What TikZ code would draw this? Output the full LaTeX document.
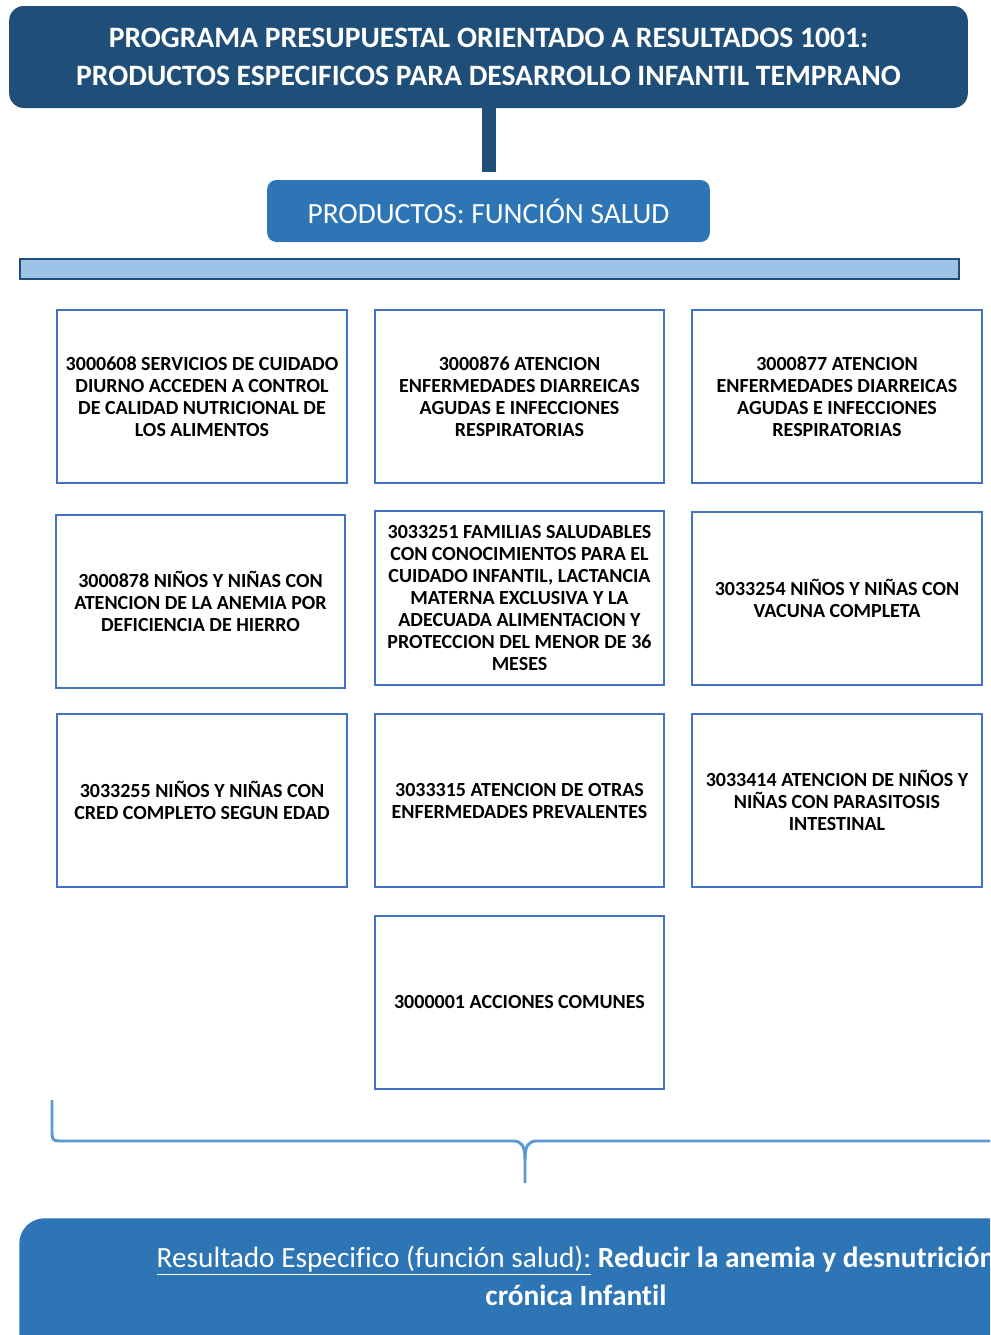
\documentclass[tikz,border=0pt]{standalone}
\usepackage{fontspec}
\setmainfont{Carlito}[Ligatures=NoCommon]
\usetikzlibrary{positioning}
\definecolor{darkblue}{HTML}{1F4E79}
\definecolor{midblue}{HTML}{2E75B6}
\definecolor{lightblue}{HTML}{9DC3E6}
\definecolor{boxblue}{HTML}{4472C4}
\definecolor{braceblue}{HTML}{5B9BD5}

\begin{document}
\begin{tikzpicture}[x=0.75pt, y=-0.75pt,
        title/.style={rectangle, rounded corners=11pt, fill=darkblue, text=white, align=center,
            font=\fontsize{22.2}{29}\selectfont\bfseries, minimum width=719pt, minimum height=76.5pt},
        subtitle/.style={rectangle, rounded corners=7pt, fill=midblue, text=white,
            font=\fontsize{22}{26}\selectfont, minimum width=332pt, minimum height=46.5pt},
        bar/.style={rectangle, draw=darkblue, line width=1.5pt, fill=lightblue, minimum width=704pt, minimum height=15pt, inner sep=0pt},
        product/.style={rectangle, draw=boxblue, line width=1.4pt, fill=white, align=center,
            font=\fontsize{15}{16.5}\selectfont\bfseries, minimum width=217pt, minimum height=130pt, inner sep=2pt},
        stem/.style={-, line width=10.5pt, darkblue},
        brace/.style={-, line width=2.2pt, braceblue},
        result/.style={rectangle, rounded corners=19pt, fill=midblue, minimum width=835pt, minimum height=140pt},
        resulttext/.style={text=white, align=center, font=\fontsize{22}{29}\selectfont}
    ]
        \useasboundingbox (0,0) rectangle (990,1335);
        \clip (0,0) rectangle (990,1335);

        % Program header
        \node[title] (head) at (488.5,57) {PROGRAMA PRESUPUESTAL ORIENTADO A RESULTADOS 1001:\\PRODUCTOS ESPECIFICOS PARA DESARROLLO INFANTIL TEMPRANO};
        \node[subtitle] (prod) at (488.5,211) {PRODUCTOS: FUNCIÓN SALUD};
        \draw[stem, shorten >=6pt] (head.south) -- (prod.north);

        \node[bar] (bar) at (489.5,269) {};

        % Products (three columns)
        \node[product] (p1) at (202,396.5) {3000608 SERVICIOS DE CUIDADO\\DIURNO ACCEDEN A CONTROL\\DE CALIDAD NUTRICIONAL DE\\LOS ALIMENTOS};
        \node[product] (p2) at (519.5,396.5) {3000876 ATENCION\\ENFERMEDADES DIARREICAS\\AGUDAS E INFECCIONES\\RESPIRATORIAS};
        \node[product] (p3) at (837,396.5) {3000877 ATENCION\\ENFERMEDADES DIARREICAS\\AGUDAS E INFECCIONES\\RESPIRATORIAS};

        \node[product] (p4) at (200.5,601.5) {3000878 NIÑOS Y NIÑAS CON\\ATENCION DE LA ANEMIA POR\\DEFICIENCIA DE HIERRO};
        \node[product] (p5) at (519.5,598) {3033251 FAMILIAS SALUDABLES\\CON CONOCIMIENTOS PARA EL\\CUIDADO INFANTIL, LACTANCIA\\MATERNA EXCLUSIVA Y LA\\ADECUADA ALIMENTACION Y\\PROTECCION DEL MENOR DE 36\\MESES};
        \node[product] (p6) at (837,598.5) {3033254 NIÑOS Y NIÑAS CON\\VACUNA COMPLETA};

        \node[product] (p7) at (202,800.5) {3033255 NIÑOS Y NIÑAS CON\\CRED COMPLETO SEGUN EDAD};
        \node[product] (p8) at (519.5,800.5) {3033315 ATENCION DE OTRAS\\ENFERMEDADES PREVALENTES};
        \node[product] (p9) at (837,800.5) {3033414 ATENCION DE NIÑOS Y\\NIÑAS CON PARASITOSIS\\INTESTINAL};

        \node[product] (p10) at (519.5,1002.5) {3000001 ACCIONES COMUNES};

        % Brace to the result
        \coordinate (braceL) at (52,1100);
        \coordinate (braceTip) at (525,1183);
        \coordinate (braceR) at (1000,1141);
        \draw[brace] (braceL) -- (52,1128) .. controls (52,1141) .. (64,1141) -- (513,1141)
            .. controls (522,1141) and (525,1146) .. (525,1160) -- (braceTip);
        \draw[brace] (525,1160) .. controls (525,1146) and (528,1141) .. (537,1141) -- (braceR);

        % Result
        \node[result, anchor=north west] (res) at (19,1218) {};
        \node[resulttext] (restext) at (576,1276) {\underline{Resultado Especifico (función salud):} \textbf{Reducir la anemia y desnutrición}\\\textbf{crónica Infantil}};

    \end{tikzpicture}
\end{document}
